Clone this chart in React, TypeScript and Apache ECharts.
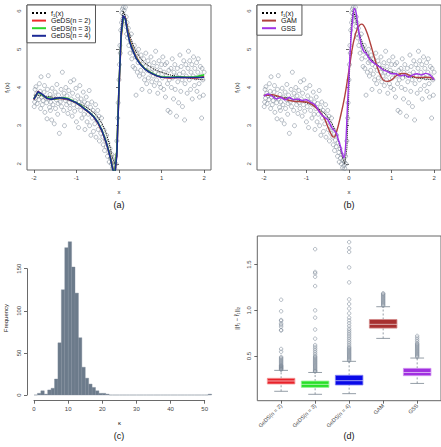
import React, { useEffect, useRef } from "react";
import * as echarts from "echarts";

// ---------- panel (a)/(b): simulated sample (x, y) ----------
const obsPoints: [number, number][] = [
  [-1.99, 3.5], [-1.98, 3.62], [-1.97, 3.95], [-1.96, 3.72], [-1.95, 4.02], [-1.93, 3.85], [-1.92, 3.58], [-1.9, 3.78], [-1.88, 3.68], [-1.87, 4.1], [-1.85, 3.9], [-1.84, 3.45], [-1.83, 4.28], [-1.82, 3.75], [-1.8, 3.55],
  [-1.78, 3.66], [-1.76, 3.88], [-1.75, 4.05], [-1.74, 3.35], [-1.72, 3.72], [-1.7, 3.6], [-1.69, 3.18], [-1.68, 3.95], [-1.66, 4.31], [-1.65, 3.7], [-1.63, 3.48], [-1.62, 3.82], [-1.61, 3.4], [-1.6, 3.62],
  [-1.58, 3.15], [-1.57, 3.98], [-1.55, 3.55], [-1.54, 3.75], [-1.52, 3.05], [-1.5, 3.88], [-1.49, 3.45], [-1.47, 3.68], [-1.46, 4.08], [-1.44, 3.3], [-1.43, 3.58], [-1.42, 3.8], [-1.4, 2.8],
  [-1.38, 3.62], [-1.36, 3.95], [-1.35, 3.5], [-1.33, 4.4], [-1.32, 3.72], [-1.3, 3.4], [-1.29, 3.85], [-1.28, 3.0], [-1.26, 3.66], [-1.25, 4.0], [-1.23, 3.55], [-1.22, 3.78], [-1.2, 3.32],
  [-1.18, 3.92], [-1.17, 3.6], [-1.15, 3.45], [-1.14, 4.15], [-1.12, 3.7], [-1.1, 3.25], [-1.09, 3.85], [-1.07, 3.55], [-1.06, 4.2], [-1.04, 3.38], [-1.03, 3.65], [-1.01, 3.98], [-1.0, 3.1],
  [-0.98, 3.5], [-0.97, 3.78], [-0.95, 2.95], [-0.94, 3.62], [-0.92, 4.05], [-0.9, 3.4], [-0.89, 3.7], [-0.87, 3.2], [-0.86, 3.55], [-0.84, 3.88], [-0.82, 3.3], [-0.81, 3.62], [-0.8, 2.9],
  [-0.78, 3.45], [-0.77, 3.75], [-0.75, 3.1], [-0.74, 3.58], [-0.72, 3.3], [-0.7, 3.92], [-0.69, 3.0], [-0.67, 3.48], [-0.66, 2.75], [-0.64, 3.62], [-0.63, 3.2], [-0.61, 3.4], [-0.6, 2.85],
  [-0.58, 3.3], [-0.57, 3.05], [-0.55, 3.55], [-0.54, 2.7], [-0.52, 3.15], [-0.5, 3.4], [-0.49, 2.9], [-0.47, 3.25], [-0.46, 2.6], [-0.44, 3.05], [-0.43, 2.8], [-0.41, 3.2], [-0.4, 2.95],
  [-0.38, 2.7], [-0.37, 2.5], [-0.35, 2.88], [-0.34, 2.35], [-0.32, 2.62], [-0.3, 2.45], [-0.29, 2.75], [-0.27, 2.2], [-0.26, 2.55], [-0.24, 2.3], [-0.23, 2.05], [-0.21, 2.4], [-0.2, 2.15],
  [-0.18, 2.0], [-0.17, 2.25], [-0.15, 1.9], [-0.14, 2.1], [-0.12, 1.95], [-0.11, 2.05], [-0.1, 1.88], [-0.08, 2.2], [-0.07, 2.0], [-0.05, 2.6], [-0.03, 3.2], [-0.02, 3.6], [0.0, 4.2],
  [0.01, 4.6], [0.02, 5.1], [0.03, 4.9], [0.04, 5.5], [0.06, 5.7], [0.07, 5.95], [0.08, 6.05], [0.09, 5.8], [0.1, 6.1], [0.11, 5.9], [0.12, 6.02], [0.13, 5.75], [0.15, 6.1], [0.16, 5.6], [0.17, 5.85], [0.18, 5.4], [0.19, 5.7], [0.2, 5.3],
  [0.22, 5.55], [0.23, 5.1], [0.24, 5.35], [0.26, 4.9], [0.27, 5.2], [0.29, 5.4], [0.3, 4.75], [0.31, 5.05], [0.33, 4.55], [0.34, 4.95], [0.36, 5.1], [0.37, 4.5], [0.39, 4.8], [0.4, 3.8],
  [0.42, 4.9], [0.43, 4.4], [0.45, 4.65], [0.46, 5.0], [0.48, 4.3], [0.49, 4.7], [0.51, 4.45], [0.52, 4.85], [0.54, 3.95], [0.55, 4.6], [0.57, 4.35], [0.58, 4.75], [0.6, 4.2],
  [0.62, 4.55], [0.63, 4.9], [0.65, 4.1], [0.66, 4.45], [0.68, 4.7], [0.69, 4.25], [0.71, 4.6], [0.72, 3.9], [0.74, 4.4], [0.75, 4.8], [0.77, 4.15], [0.78, 4.5], [0.8, 4.3],
  [0.82, 4.65], [0.83, 4.05], [0.85, 4.4], [0.86, 4.95], [0.88, 4.2], [0.89, 4.55], [0.91, 3.85], [0.92, 4.35], [0.94, 4.7], [0.95, 4.1], [0.97, 4.45], [0.98, 4.0], [1.0, 4.6],
  [1.02, 4.25], [1.03, 4.8], [1.05, 3.95], [1.06, 4.4], [1.08, 4.6], [1.09, 3.75], [1.11, 4.3], [1.12, 4.65], [1.14, 4.1], [1.15, 3.4], [1.17, 4.45], [1.18, 4.2], [1.2, 3.35],
  [1.22, 4.5], [1.23, 4.0], [1.25, 4.75], [1.26, 4.25], [1.28, 3.7], [1.29, 4.4], [1.31, 4.6], [1.32, 3.95], [1.34, 4.3], [1.35, 3.25], [1.37, 4.5], [1.38, 4.15], [1.4, 3.6],
  [1.42, 4.35], [1.43, 4.85], [1.45, 3.9], [1.46, 4.55], [1.48, 4.2], [1.49, 3.5], [1.51, 4.4], [1.52, 4.7], [1.54, 3.15], [1.55, 4.1], [1.57, 4.6], [1.58, 4.3], [1.6, 3.85],
  [1.62, 4.5], [1.63, 4.95], [1.65, 4.2], [1.66, 4.7], [1.68, 3.95], [1.69, 4.4], [1.71, 4.6], [1.72, 3.7], [1.74, 4.3], [1.75, 4.8], [1.77, 4.05], [1.78, 4.5], [1.8, 4.25],
  [1.82, 4.65], [1.83, 3.9], [1.85, 4.4], [1.86, 4.75], [1.88, 4.1], [1.89, 3.75], [1.91, 4.55], [1.92, 4.3], [1.94, 3.2], [1.95, 4.5], [1.97, 4.2], [1.98, 3.8], [2.0, 4.4],
];

// ---------- curves ----------
const curveX = [-2, -1.9, -1.8, -1.7, -1.6, -1.5, -1.4, -1.3, -1.2, -1.1, -1.0, -0.9, -0.8, -0.7, -0.6, -0.5, -0.4, -0.3, -0.25, -0.2, -0.15, -0.1, -0.05, 0, 0.05, 0.1, 0.15, 0.2, 0.25, 0.3, 0.4, 0.5, 0.6, 0.7, 0.8, 0.9, 1.0, 1.2, 1.4, 1.6, 1.8, 2.0];
const trueF = [3.8, 3.79, 3.78, 3.77, 3.75, 3.74, 3.72, 3.69, 3.67, 3.64, 3.6, 3.56, 3.51, 3.43, 3.35, 3.23, 3.06, 2.8, 2.62, 2.4, 2.15, 2.0, 2.4, 4.0, 5.6, 6.0, 5.85, 5.6, 5.38, 5.2, 4.94, 4.77, 4.65, 4.57, 4.49, 4.44, 4.4, 4.33, 4.28, 4.25, 4.22, 4.2];
const geds2 = [3.68, 3.9, 3.81, 3.72, 3.7, 3.7, 3.71, 3.72, 3.7, 3.65, 3.59, 3.52, 3.43, 3.34, 3.24, 3.08, 2.86, 2.55, 2.37, 2.16, 1.9, 1.72, 2.3, 4.0, 5.3, 5.85, 5.82, 5.5, 5.25, 5.07, 4.8, 4.63, 4.5, 4.42, 4.35, 4.3, 4.27, 4.25, 4.27, 4.26, 4.25, 4.28];
const geds3 = [3.7, 3.88, 3.8, 3.73, 3.71, 3.7, 3.72, 3.73, 3.71, 3.66, 3.6, 3.53, 3.44, 3.35, 3.25, 3.1, 2.88, 2.57, 2.38, 2.15, 1.88, 1.75, 2.35, 4.05, 5.35, 5.83, 5.8, 5.47, 5.22, 5.05, 4.78, 4.62, 4.5, 4.42, 4.36, 4.31, 4.28, 4.27, 4.28, 4.27, 4.28, 4.33];
const geds4 = [3.69, 3.89, 3.82, 3.72, 3.69, 3.71, 3.73, 3.72, 3.7, 3.65, 3.6, 3.52, 3.43, 3.35, 3.24, 3.09, 2.87, 2.56, 2.36, 2.14, 1.87, 1.7, 2.25, 4.0, 5.4, 5.88, 5.8, 5.45, 5.2, 5.03, 4.77, 4.61, 4.49, 4.41, 4.35, 4.3, 4.27, 4.26, 4.27, 4.26, 4.26, 4.27];
const gamX = [-2, -1.8, -1.6, -1.4, -1.2, -1.0, -0.8, -0.6, -0.5, -0.4, -0.35, -0.3, -0.2, -0.1, 0, 0.1, 0.2, 0.3, 0.4, 0.5, 0.6, 0.7, 0.8, 0.9, 1.0, 1.1, 1.2, 1.3, 1.4, 1.5, 1.6, 1.8, 2.0];
const gamY = [3.79, 3.81, 3.74, 3.66, 3.63, 3.62, 3.5, 3.24, 2.98, 2.74, 2.7, 2.81, 3.24, 3.77, 4.46, 5.16, 5.55, 5.66, 5.5, 5.16, 4.77, 4.42, 4.2, 4.16, 4.2, 4.3, 4.36, 4.37, 4.33, 4.29, 4.26, 4.27, 4.24];
const gssX = [-2, -1.9, -1.8, -1.7, -1.6, -1.5, -1.4, -1.3, -1.2, -1.1, -1.0, -0.9, -0.8, -0.7, -0.6, -0.5, -0.4, -0.3, -0.25, -0.2, -0.15, -0.12, -0.08, -0.04, 0, 0.05, 0.1, 0.13, 0.17, 0.2, 0.25, 0.3, 0.35, 0.4, 0.5, 0.6, 0.7, 0.8, 0.9, 1.0, 1.1, 1.2, 1.3, 1.4, 1.5, 1.6, 1.7, 1.8, 1.9, 2.0];
const gssY = [3.77, 3.83, 3.77, 3.7, 3.74, 3.68, 3.74, 3.68, 3.7, 3.66, 3.68, 3.61, 3.55, 3.37, 3.24, 3.16, 2.94, 2.81, 2.63, 2.46, 2.24, 2.16, 2.46, 3.42, 4.37, 5.33, 5.94, 6.07, 5.94, 5.68, 5.33, 5.07, 4.94, 4.9, 4.72, 4.63, 4.55, 4.46, 4.42, 4.36, 4.36, 4.3, 4.33, 4.27, 4.33, 4.36, 4.33, 4.37, 4.33, 4.2];
const xTicksAB = [-2, -1, 0, 1, 2];
const yTicksAB = [2, 3, 4, 5, 6];

// ---------- panel (c): histogram of kappa ----------
const histStart = 0; // first break, bins of width 1
const histCounts = [0, 2, 5, 1, 6, 8, 19, 62, 125, 175, 182, 152, 121, 68, 33, 20, 13, 9, 5, 2, 2, 1, 0, 0, 0, 0, 0, 0, 0, 0, 0, 0, 0, 0, 0, 0, 0, 0, 0, 0, 0, 0, 0, 0, 0, 0, 0, 0, 0, 0, 0, 1];

// ---------- panel (d): boxplots of L2 errors ----------
const boxNames = ["GeDS(n = 2)", "GeDS(n = 3)", "GeDS(n = 4)", "GAM", "GSS"];
const boxMin = [0.114, 0.081, 0.088, 0.693, 0.2];
const boxQ1 = [0.194, 0.157, 0.183, 0.806, 0.285];
const boxMedian = [0.227, 0.19, 0.23, 0.847, 0.32];
const boxQ3 = [0.256, 0.226, 0.289, 0.9, 0.365];
const boxMax = [0.343, 0.32, 0.442, 1.04, 0.478];
const outGeds2 = [0.35, 0.355, 0.36, 0.365, 0.37, 0.375, 0.38, 0.385, 0.39, 0.395, 0.4, 0.41, 0.42, 0.43, 0.44, 0.45, 0.46, 0.47, 0.48, 0.49, 0.547, 0.577, 0.78, 0.785, 0.82, 0.84, 0.857, 0.886, 0.894, 0.99, 1.116];
const outGeds3 = [0.33, 0.335, 0.34, 0.35, 0.36, 0.37, 0.38, 0.39, 0.4, 0.41, 0.42, 0.43, 0.44, 0.45, 0.46, 0.47, 0.48, 0.49, 0.5, 0.52, 0.54, 0.56, 0.58, 0.6, 0.62, 0.69, 0.79, 0.92, 1.0, 1.266, 1.368, 1.405, 1.42, 1.67];
const outGeds4 = [0.45, 0.46, 0.47, 0.48, 0.49, 0.5, 0.51, 0.52, 0.53, 0.54, 0.55, 0.56, 0.57, 0.58, 0.59, 0.6, 0.62, 0.64, 0.66, 0.68, 0.7, 0.72, 0.74, 0.76, 0.78, 0.8, 0.83, 0.86, 0.89, 0.92, 0.967, 1.02, 1.07, 1.12, 1.306, 1.47, 1.64, 1.68, 1.747];
const outGam = [1.05, 1.06, 1.07, 1.08, 1.09, 1.1, 1.11, 1.12, 1.13, 1.14, 1.15, 1.16, 1.17, 1.18, 1.186];
const outGss = [0.49, 0.5, 0.51, 0.52, 0.53, 0.54, 0.55, 0.56, 0.57, 0.58, 0.59, 0.6, 0.61, 0.62, 0.63, 0.64, 0.66, 0.68, 0.7, 0.72];
const yTicksD = [0.5, 1.0, 1.5];

const FONT = "Liberation Sans, Arial, Helvetica, sans-serif";
const AX = "#444";
const BORDER = "#666";
const boxFill = ["#e8222a", "#28e028", "#0a0ae8", "#a83030", "#a030e0"];
const boxEdge = ["#f29090", "#90f090", "#8080f4", "#d08888", "#d090f0"];

const pairs = (xs: number[], ys: number[]) => xs.map((x, i) => [x, ys[i]]);

export default function App() {
  const ref = useRef<HTMLDivElement>(null);
  useEffect(() => {
    document.body.style.margin = "0";
    const chart = echarts.init(ref.current!, null, { renderer: "svg" });

    const tick = { show: true, length: 3, inside: false, lineStyle: { color: AX, width: 0.8 } };
    const lbl = { fontSize: 6, color: AX, fontFamily: FONT };
    const nameStyle = { fontSize: 6, color: "#222", fontFamily: FONT };

    const abX = (gi: number) => ({
      gridIndex: gi, type: "value", min: -2.16, max: 2.16,
      axisLine: { show: false }, splitLine: { show: false },
      axisTick: { ...tick, customValues: xTicksAB },
      axisLabel: { ...lbl, margin: 5, customValues: xTicksAB },
      name: "x", nameLocation: "middle", nameGap: 19, nameTextStyle: nameStyle,
    });
    const abY = (gi: number) => ({
      gridIndex: gi, type: "value", min: 1.84, max: 6.16,
      axisLine: { show: false }, splitLine: { show: false },
      axisTick: { ...tick, customValues: yTicksAB },
      axisLabel: { ...lbl, margin: 5, rotate: 90, customValues: yTicksAB },
      name: "f₁(x)", nameLocation: "middle", nameGap: 17, nameRotate: 90, nameTextStyle: nameStyle,
    });

    const obsSeries = (gi: number) => ({
      type: "scatter", xAxisIndex: gi, yAxisIndex: gi, data: obsPoints,
      symbol: "circle", symbolSize: 4, silent: true,
      itemStyle: { color: "rgba(0,0,0,0)", borderColor: "#7d8b98", borderWidth: 0.7 },
    });
    const lineSeries = (gi: number, name: string, data: number[][], color: string, width: number, type: string = "solid", smooth: any = false) => ({
      type: "line", name, xAxisIndex: gi, yAxisIndex: gi, data, symbol: "none", smooth,
      lineStyle: { color, width, type }, itemStyle: { color }, silent: true,
    });

    const legendBase = {
      orient: "vertical", borderColor: "#555", borderWidth: 1, backgroundColor: "#fff",
      itemWidth: 14, itemHeight: 7, itemGap: 0.6, padding: [4.5, 5, 3.5, 4],
      textStyle: { fontSize: 7, color: "#111", fontFamily: FONT, lineHeight: 7 },
      itemStyle: { color: "rgba(0,0,0,0)", borderColor: "rgba(0,0,0,0)", borderWidth: 0, opacity: 0 },
      selectedMode: false,
    };

    const outliers: number[][] = [];
    [outGeds2, outGeds3, outGeds4, outGam, outGss].forEach((arr, i) => arr.forEach((v) => outliers.push([i + 1, v])));

    const option: any = {
      animation: false,
      backgroundColor: "#fff",
      textStyle: { fontFamily: FONT },
      grid: [
        { left: 27, top: 5, width: 184, height: 165, show: true, borderColor: BORDER, borderWidth: 1, backgroundColor: "transparent" },
        { left: 257, top: 5, width: 184, height: 165, show: true, borderColor: BORDER, borderWidth: 1, backgroundColor: "transparent" },
        { left: 27.2, top: 235, width: 184.4, height: 166.15 },
        { left: 27, top: 268.7, width: 10, height: 126.3 },
        { left: 34, top: 390, width: 170.7, height: 10.7 },
        { left: 257.3, top: 236, width: 184, height: 164.7, show: true, borderColor: BORDER, borderWidth: 1, backgroundColor: "transparent" },
      ],
      xAxis: [
        abX(0),
        abX(1),
        { gridIndex: 2, type: "value", min: -2, max: 52, axisLine: { show: false }, axisTick: { show: false }, axisLabel: { show: false }, splitLine: { show: false },
          name: "κ", nameLocation: "middle", nameGap: 19, nameTextStyle: nameStyle },
        { gridIndex: 3, type: "value", min: 0, max: 1, show: false },
        { gridIndex: 4, type: "value", min: 0, max: 50, interval: 10, position: "bottom",
          axisLine: { show: true, lineStyle: { color: AX, width: 0.8 } }, axisTick: tick, splitLine: { show: false },
          axisLabel: { ...lbl, margin: 5 } },
        { gridIndex: 5, type: "value", min: 0.3, max: 5.7,
          axisLine: { show: false }, splitLine: { show: false },
          axisTick: { ...tick, customValues: [1, 2, 3, 4, 5] },
          axisLabel: { ...lbl, fontSize: 5.5, margin: 4, rotate: 45, customValues: [1, 2, 3, 4, 5], formatter: (v: number) => boxNames[Math.round(v) - 1] } },
      ],
      yAxis: [
        abY(0),
        abY(1),
        { gridIndex: 2, type: "value", min: -7.3, max: 190, axisLine: { show: false }, axisTick: { show: false }, axisLabel: { show: false }, splitLine: { show: false },
          name: "Frequency", nameLocation: "middle", nameGap: 18, nameRotate: 90, nameTextStyle: nameStyle },
        { gridIndex: 3, type: "value", min: 0, max: 150, interval: 50,
          axisLine: { show: true, lineStyle: { color: AX, width: 0.8 } }, axisTick: tick, splitLine: { show: false },
          axisLabel: { ...lbl, margin: 5, rotate: 90 } },
        { gridIndex: 4, type: "value", min: 0, max: 1, show: false },
        { gridIndex: 5, type: "value", min: 0.011, max: 1.814,
          axisLine: { show: false }, splitLine: { show: false },
          axisTick: { ...tick, customValues: yTicksD },
          axisLabel: { ...lbl, margin: 5, rotate: 90, customValues: yTicksD, formatter: (v: number) => v.toFixed(1) },
          name: "||f₁ − f̂₁||₂", nameLocation: "middle", nameGap: 17, nameRotate: 90, nameTextStyle: nameStyle },
      ],
      legend: [
        { ...legendBase, left: 27, top: 5, data: ["f₁(x)", "GeDS(n = 2)", "GeDS(n = 3)", "GeDS(n = 4)"] },
        { ...legendBase, left: 257, top: 5, data: ["f₁(x)", "GAM", "GSS"] },
      ],
      graphic: [
        { type: "text", x: 119, y: 205, style: { text: "(a)", align: "center", verticalAlign: "middle", fontSize: 9, fill: "#111", fontFamily: FONT } },
        { type: "text", x: 349, y: 205, style: { text: "(b)", align: "center", verticalAlign: "middle", fontSize: 9, fill: "#111", fontFamily: FONT } },
        { type: "text", x: 119, y: 436, style: { text: "(c)", align: "center", verticalAlign: "middle", fontSize: 9, fill: "#111", fontFamily: FONT } },
        { type: "text", x: 349, y: 436, style: { text: "(d)", align: "center", verticalAlign: "middle", fontSize: 9, fill: "#111", fontFamily: FONT } },
      ],
      series: [
        obsSeries(0),
        lineSeries(0, "f₁(x)", pairs(curveX, trueF), "#000", 1, "dotted"),
        lineSeries(0, "GeDS(n = 2)", pairs(curveX, geds2), "#ee2a2a", 1.6),
        lineSeries(0, "GeDS(n = 3)", pairs(curveX, geds3), "#2ad62a", 1.6),
        lineSeries(0, "GeDS(n = 4)", pairs(curveX, geds4), "#1c2a96", 1.6),
        obsSeries(1),
        lineSeries(1, "f₁(x)", pairs(curveX, trueF), "#000", 1, "dotted"),
        lineSeries(1, "GAM", pairs(gamX, gamY), "#b0413e", 1.4, "solid", 0.4),
        lineSeries(1, "GSS", pairs(gssX, gssY), "#a032e6", 1.4, "solid", 0.3),
        {
          type: "custom", xAxisIndex: 2, yAxisIndex: 2, silent: true,
          data: histCounts.map((c, i) => [histStart + i, histStart + i + 1, c]),
          encode: { x: [0, 1], y: 2 },
          renderItem: (_p: any, api: any) => {
            const p0 = api.coord([api.value(0), 0]);
            const p1 = api.coord([api.value(1), api.value(2)]);
            if (api.value(2) === 0) {
              return { type: "line", shape: { x1: p0[0], y1: p0[1], x2: p1[0], y2: p0[1] }, style: { stroke: "#9aa4ae", lineWidth: 0.9 } };
            }
            return { type: "rect", shape: { x: p0[0], y: p1[1], width: p1[0] - p0[0], height: p0[1] - p1[1] },
              style: { fill: "#6c7b8b", stroke: "#7e8c9b", lineWidth: 0.4 } };
          },
        },
        {
          type: "custom", xAxisIndex: 5, yAxisIndex: 5, silent: true,
          data: boxNames.map((_, i) => [i + 1, boxMin[i], boxQ1[i], boxMedian[i], boxQ3[i], boxMax[i]]),
          encode: { x: 0, y: [1, 2, 3, 4, 5] },
          renderItem: (params: any, api: any) => {
            const x = api.value(0);
            const lo = api.coord([x, api.value(1)]);
            const q1 = api.coord([x, api.value(2)]);
            const md = api.coord([x, api.value(3)]);
            const q3 = api.coord([x, api.value(4)]);
            const hi = api.coord([x, api.value(5)]);
            const w = api.size([0.81, 0])[0];
            const i = params.dataIndex;
            const wStyle = { stroke: "#7a8590", lineWidth: 0.8, lineDash: [2, 2] };
            const cStyle = { stroke: "#7a8590", lineWidth: 0.8 };
            return {
              type: "group",
              children: [
                { type: "line", shape: { x1: lo[0], y1: lo[1], x2: q1[0], y2: q1[1] }, style: wStyle },
                { type: "line", shape: { x1: q3[0], y1: q3[1], x2: hi[0], y2: hi[1] }, style: wStyle },
                { type: "line", shape: { x1: lo[0] - w / 4, y1: lo[1], x2: lo[0] + w / 4, y2: lo[1] }, style: cStyle },
                { type: "line", shape: { x1: hi[0] - w / 4, y1: hi[1], x2: hi[0] + w / 4, y2: hi[1] }, style: cStyle },
                { type: "rect", shape: { x: q3[0] - w / 2, y: q3[1], width: w, height: q1[1] - q3[1] },
                  style: { fill: boxFill[i], stroke: boxEdge[i], lineWidth: 0.8 } },
                { type: "line", shape: { x1: md[0] - w / 2, y1: md[1], x2: md[0] + w / 2, y2: md[1] },
                  style: { stroke: "rgba(255,255,255,0.6)", lineWidth: 1 } },
              ],
            };
          },
        },
        {
          type: "scatter", xAxisIndex: 5, yAxisIndex: 5, data: outliers, silent: true,
          symbol: "circle", symbolSize: 3.5,
          itemStyle: { color: "rgba(0,0,0,0)", borderColor: "#7d8b98", borderWidth: 0.7 },
        },
      ],
    };
    chart.setOption(option);
    return () => chart.dispose();
  }, []);
  return <div ref={ref} style={{ position: "absolute", left: 0, top: 0, width: 441, height: 447, background: "#fff" }} />;
}
